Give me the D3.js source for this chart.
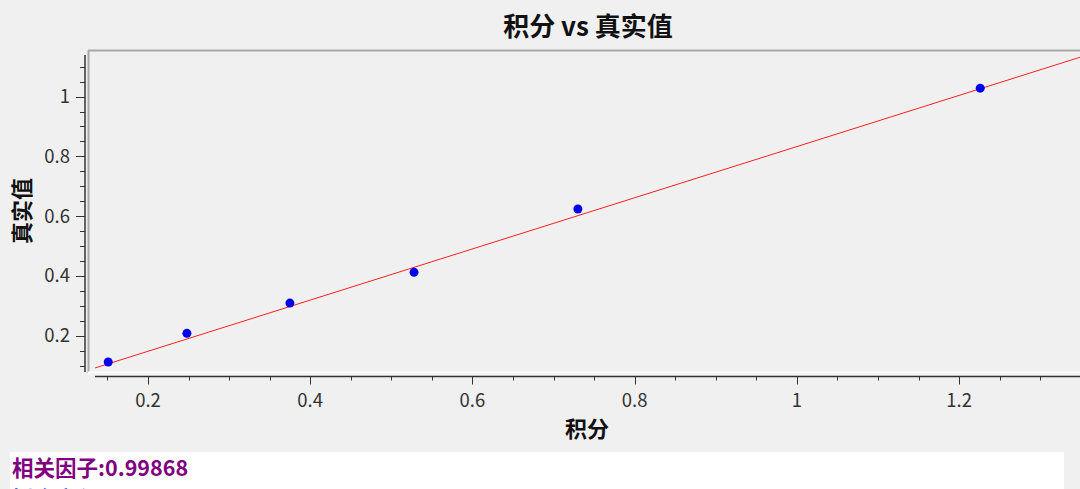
<!DOCTYPE html>
<html>
<head>
<meta charset="utf-8">
<style>
body { margin: 0; background: #f0f0f0; overflow: hidden; }
* { font-family: "Noto Sans CJK SC", "Noto Sans", sans-serif; }
</style>
</head>
<body>
<svg width="1080" height="489"></svg>
<script src="https://d3js.org/d3.v7.min.js"></script>
<script>

// measured points: 积分 (x) vs 真实值 (y)
var jifen = [0.151, 0.248, 0.375, 0.528, 0.730, 1.226];
var zhenshi = [0.112, 0.208, 0.309, 0.412, 0.624, 1.028];

// fitted line
var fitSlope = 0.856, fitIntercept = -0.0233;

var xTicks = [0.2, 0.4, 0.6, 0.8, 1, 1.2];
var yTicks = [0.2, 0.4, 0.6, 0.8, 1];

var corrText = "相关因子:0.99868";
var eqText = "拟合方程:y=0.856x-0.0233";

var svg = d3.select("svg");

var x = d3.scaleLinear().domain([0.1347, 1.349]).range([95, 1080]);
var y = d3.scaleLinear().domain([0.0786, 1.139]).range([372, 55]);

// plot frame
svg.append("line").attr("x1", 88).attr("x2", 1080).attr("y1", 50.5).attr("y2", 50.5)
  .attr("stroke", "#a8a8a8").attr("stroke-width", 2);
svg.append("line").attr("x1", 88.5).attr("x2", 88.5).attr("y1", 50).attr("y2", 373)
  .attr("stroke", "#a8a8a8").attr("stroke-width", 2);
svg.append("line").attr("x1", 88).attr("x2", 1080).attr("y1", 372.5).attr("y2", 372.5)
  .attr("stroke", "#ffffff").attr("stroke-width", 2);

// x axis
var xa = svg.append("g").attr("transform", "translate(0,376.5)");
xa.append("line").attr("x1", 95).attr("x2", 1080).attr("stroke", "#333").attr("stroke-width", 1.5);
var xMinor = d3.range(0.15, 1.35, 0.05);
xa.selectAll(".mn").data(xMinor).enter().append("line")
  .attr("x1", function(d) { return Math.round(x(d)) + 0.5; })
  .attr("x2", function(d) { return Math.round(x(d)) + 0.5; })
  .attr("y1", 0).attr("y2", 4).attr("stroke", "#333");
xa.selectAll(".mj").data(xTicks).enter().append("line")
  .attr("x1", function(d) { return Math.round(x(d)) + 0.5; })
  .attr("x2", function(d) { return Math.round(x(d)) + 0.5; })
  .attr("y1", 0).attr("y2", 8).attr("stroke", "#333");
xa.selectAll("text").data(xTicks).enter().append("text")
  .attr("x", function(d) { return x(d); })
  .attr("y", 30)
  .attr("text-anchor", "middle")
  .attr("font-family", "'Noto Sans', sans-serif")
  .attr("font-size", 18.5).attr("fill", "#333")
  .text(function(d) { return d3.format("")(d); });

// y axis
var ya = svg.append("g").attr("transform", "translate(85,0)");
ya.append("line").attr("y1", 55).attr("y2", 372).attr("stroke", "#333").attr("stroke-width", 1.5);
var yMinor = d3.range(0.1, 1.15, 0.05);
ya.selectAll(".mn").data(yMinor).enter().append("line")
  .attr("y1", function(d) { return Math.round(y(d)) + 0.5; })
  .attr("y2", function(d) { return Math.round(y(d)) + 0.5; })
  .attr("x1", 0).attr("x2", -5).attr("stroke", "#333");
ya.selectAll(".mj").data(yTicks).enter().append("line")
  .attr("y1", function(d) { return Math.round(y(d)) + 0.5; })
  .attr("y2", function(d) { return Math.round(y(d)) + 0.5; })
  .attr("x1", 0).attr("x2", -9).attr("stroke", "#333");
ya.selectAll("text").data(yTicks).enter().append("text")
  .attr("x", -15)
  .attr("y", function(d) { return y(d) + 6.5; })
  .attr("text-anchor", "end")
  .attr("font-family", "'Noto Sans', sans-serif")
  .attr("font-size", 18.5).attr("fill", "#333")
  .text(function(d) { return d3.format("")(d); });

// titles
svg.append("text").attr("x", 588).attr("y", 36).attr("text-anchor", "middle")
  .attr("font-size", 26).attr("font-weight", "bold").attr("fill", "#111")
  .text("积分 vs 真实值");
svg.append("text").attr("x", 587).attr("y", 437).attr("text-anchor", "middle")
  .attr("font-size", 22).attr("font-weight", "bold").attr("fill", "#111")
  .text("积分");
svg.append("text").attr("transform", "translate(30,211) rotate(-90)").attr("text-anchor", "middle")
  .attr("font-size", 22).attr("font-weight", "bold").attr("fill", "#111")
  .text("真实值");

// fit line
var x0 = x.domain()[0], x1 = x.domain()[1];
svg.append("line")
  .attr("x1", x(x0)).attr("y1", y(fitSlope * x0 + fitIntercept))
  .attr("x2", x(x1)).attr("y2", y(fitSlope * x1 + fitIntercept))
  .attr("stroke", "#ff2020").attr("stroke-width", 1);

// points
svg.selectAll("circle").data(jifen).enter().append("circle")
  .attr("cx", function(d) { return x(d); })
  .attr("cy", function(d, i) { return y(zhenshi[i]); })
  .attr("r", 4.5).attr("fill", "#0000ee");

// result box
svg.append("rect").attr("x", 10).attr("y", 452).attr("width", 1054).attr("height", 40).attr("fill", "#fff");
svg.append("text").attr("x", 12).attr("y", 476)
  .attr("font-size", 21.5).attr("font-weight", "bold").attr("fill", "#800080")
  .text(corrText);
svg.append("text").attr("x", 12).attr("y", 507)
  .attr("font-size", 21.5).attr("font-weight", "bold").attr("fill", "#2040e0")
  .text(eqText);

</script>
</body>
</html>
